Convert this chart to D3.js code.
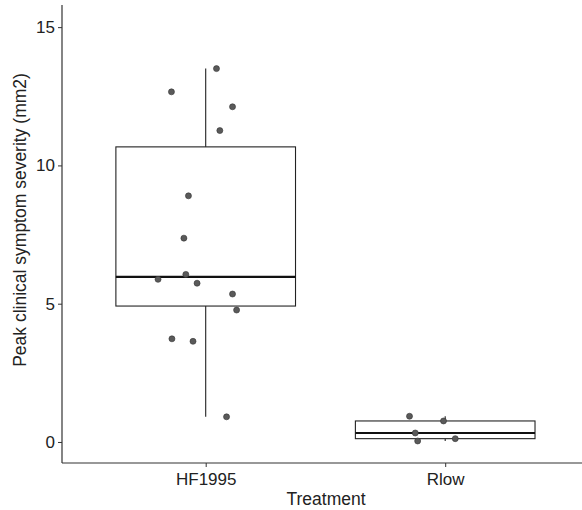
<!DOCTYPE html>
<html>
<head>
<meta charset="utf-8">
<script src="https://cdn.jsdelivr.net/npm/d3@7"></script>
<style>
  body { margin: 0; background: #fff; }
  text { font-family: "Liberation Sans", Arial, sans-serif; fill: #222; }
</style>
</head>
<body>
<div id="chart"></div>
<script>
// Data
var treatments = ["HF1995", "Rlow"];
var hfValues = [13.5, 12.66, 12.12, 11.26, 8.90, 7.37, 6.06, 5.88, 5.74, 5.35, 4.77, 3.73, 3.64, 0.91];
var hfJitter = [0.045, -0.143, 0.112, 0.059, -0.072, -0.091, -0.083, -0.199, -0.036, 0.112, 0.129, -0.141, -0.053, 0.087];
var rlowValues = [0.93, 0.76, 0.325, 0.036, 0.12];
var rlowJitter = [-0.149, -0.007, -0.125, -0.115, 0.042];
var yTicks = [0, 5, 10, 15];

var width = 582, height = 510;
var margin = { top: 5, left: 62, right: 0, bottom: 47 };

var svg = d3.select("#chart").append("svg")
    .attr("width", width)
    .attr("height", height);

var y = d3.scaleLinear()
    .domain([-0.76, 15.8])
    .range([height - margin.bottom, margin.top]);

// discrete positions 1, 2 with ggplot-style expansion
var x = d3.scaleLinear()
    .domain([0.4, 2.6])
    .range([margin.left, margin.left + 2.2 * 239.5]);

var groups = [
  { name: treatments[0], pos: 1, values: hfValues, jitter: hfJitter },
  { name: treatments[1], pos: 2, values: rlowValues, jitter: rlowJitter }
];

groups.forEach(function(g) {
  var s = g.values.slice().sort(d3.ascending);
  var q1 = d3.quantile(s, 0.25), med = d3.quantile(s, 0.5), q3 = d3.quantile(s, 0.75);
  var iqr = q3 - q1;
  var lo = d3.min(s.filter(function(v) { return v >= q1 - 1.5 * iqr; }));
  var hi = d3.max(s.filter(function(v) { return v <= q3 + 1.5 * iqr; }));
  var half = 0.375;
  var gg = svg.append("g");

  gg.append("line")
      .attr("x1", x(g.pos)).attr("x2", x(g.pos))
      .attr("y1", y(q3)).attr("y2", y(hi))
      .attr("stroke", "#222").attr("stroke-width", 1.1);
  gg.append("line")
      .attr("x1", x(g.pos)).attr("x2", x(g.pos))
      .attr("y1", y(q1)).attr("y2", y(lo))
      .attr("stroke", "#222").attr("stroke-width", 1.1);
  gg.append("rect")
      .attr("x", x(g.pos - half))
      .attr("y", y(q3))
      .attr("width", x(g.pos + half) - x(g.pos - half))
      .attr("height", y(q1) - y(q3))
      .attr("fill", "#fff")
      .attr("stroke", "#222").attr("stroke-width", 1.1);
  gg.append("line")
      .attr("x1", x(g.pos - half)).attr("x2", x(g.pos + half))
      .attr("y1", y(med)).attr("y2", y(med))
      .attr("stroke", "#111").attr("stroke-width", 2.2);

  gg.selectAll("circle")
    .data(g.values)
    .enter().append("circle")
      .attr("cx", function(d, i) { return x(g.pos + g.jitter[i]); })
      .attr("cy", function(d) { return y(d); })
      .attr("r", 3)
      .attr("fill", "#5a5a5a")
      .attr("stroke", "#333")
      .attr("stroke-width", 0.6);
});

// axes
var yAxis = svg.append("g")
    .attr("transform", "translate(" + margin.left + ",0)")
    .call(d3.axisLeft(y).tickValues(yTicks).tickSize(4).tickPadding(3));
yAxis.select(".domain").attr("d", "M0," + margin.top + "V" + (height - margin.bottom))
    .attr("stroke", "#333").attr("stroke-width", 1.2);
yAxis.selectAll(".tick line").attr("stroke", "#333");
yAxis.selectAll("text").style("font-size", "17px").attr("fill", "#222");

var xAxis = svg.append("g")
    .attr("transform", "translate(0," + (height - margin.bottom) + ")")
    .call(d3.axisBottom(x).tickValues([1, 2]).tickSize(4).tickPadding(6)
      .tickFormat(function(d) { return treatments[d - 1]; }));
xAxis.select(".domain").attr("d", "M" + margin.left + ",0H" + width)
    .attr("stroke", "#333").attr("stroke-width", 1.2);
xAxis.selectAll(".tick line").attr("stroke", "#333");
xAxis.selectAll("text").style("font-size", "17px").attr("fill", "#222");

svg.append("text")
    .attr("x", 326)
    .attr("y", 505)
    .attr("text-anchor", "middle")
    .style("font-size", "17.5px")
    .text("Treatment");

svg.append("text")
    .attr("transform", "translate(26," + 220 + ") rotate(-90)")
    .attr("text-anchor", "middle")
    .style("font-size", "17.5px")
    .text("Peak clinical symptom severity (mm2)");
</script>
</body>
</html>
